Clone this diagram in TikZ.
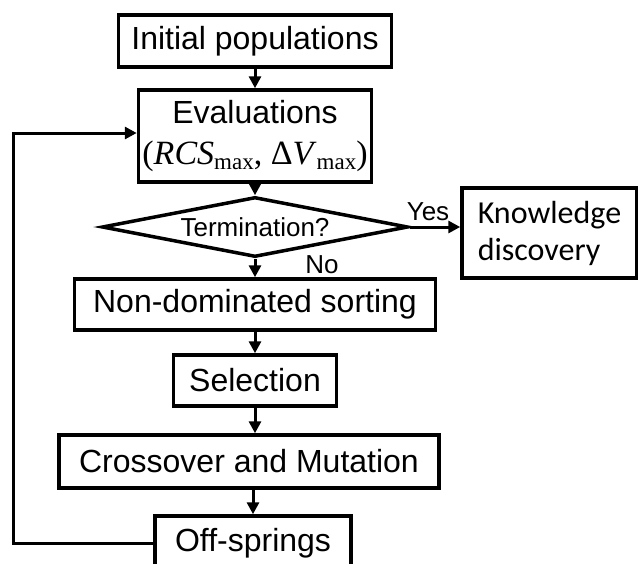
\documentclass[tikz,border=0pt]{standalone}
\usepackage{fontspec}
\setmainfont{Liberation Sans}
\newfontfamily\calibrifont{Carlito}
\newfontfamily\romanfont{Liberation Serif}
\usetikzlibrary{shapes.geometric,arrows.meta}
\newcommand{\submax}{\raisebox{-0.35ex}{\fontsize{23}{23}\selectfont max}}

\begin{document}
\begin{tikzpicture}[x=1pt,y=-1pt,
  box/.style={draw, line width=3.5pt, inner sep=0pt, font=\fontsize{32}{38}\selectfont},
  decision/.style={draw, diamond, aspect=5.1, line width=3.5pt, inner sep=0pt,
    minimum width=306pt, minimum height=60pt, font=\fontsize{26}{30}\selectfont},
  arr/.style={line width=3pt, -{Triangle[length=12pt,width=12pt]}},
  lbl/.style={inner sep=0pt, font=\fontsize{26}{30}\selectfont}]
\useasboundingbox (0,0) rectangle (638,563);

\node[box, minimum width=273pt, minimum height=52pt] (init) at (255,41) {Initial populations};
\node[box, minimum width=233pt, minimum height=92pt, align=center] (eval) at (255,136)
  {Evaluations\\[3pt]{\romanfont\fontsize{34}{38}\selectfont(\textit{RCS}\submax, Δ\textit{V}\submax)}};
\node[decision] (term) at (255,227) {Termination?};
\node[box, minimum width=175pt, minimum height=90pt, align=left,
  font=\calibrifont\fontsize{32}{37}\selectfont] (know) at (549.5,233) {Knowledge\\discovery};
\node[box, minimum width=361pt, minimum height=51pt] (nds) at (255,304.5) {Non-dominated sorting};
\node[box, minimum width=163pt, minimum height=51pt] (sel) at (255,380.5) {Selection};
\node[box, minimum width=380pt, minimum height=53pt] (cross) at (249,461.5) {Crossover and Mutation};
\node[box, minimum width=196pt, minimum height=54pt] (off) at (253,543) {Off-springs};

\node[lbl] (yes) at (428,212) {Yes};
\node[lbl] (no) at (322,265) {No};

\draw[arr] (init) -- (eval);
\draw[arr] (eval) -- (term);
\draw[arr] (term) -- (nds);
\draw[arr] (nds) -- (sel);
\draw[arr] (sel) -- (sel |- cross.north);
\draw[arr] (cross.south -| off) -- (off);
\draw[arr] (term.east) -- (term.east -| know.west);
% loop back
\draw[arr] (off.west) -- ++(-140,0) |- ([yshift=3pt]eval.west);
\end{tikzpicture}
\end{document}
